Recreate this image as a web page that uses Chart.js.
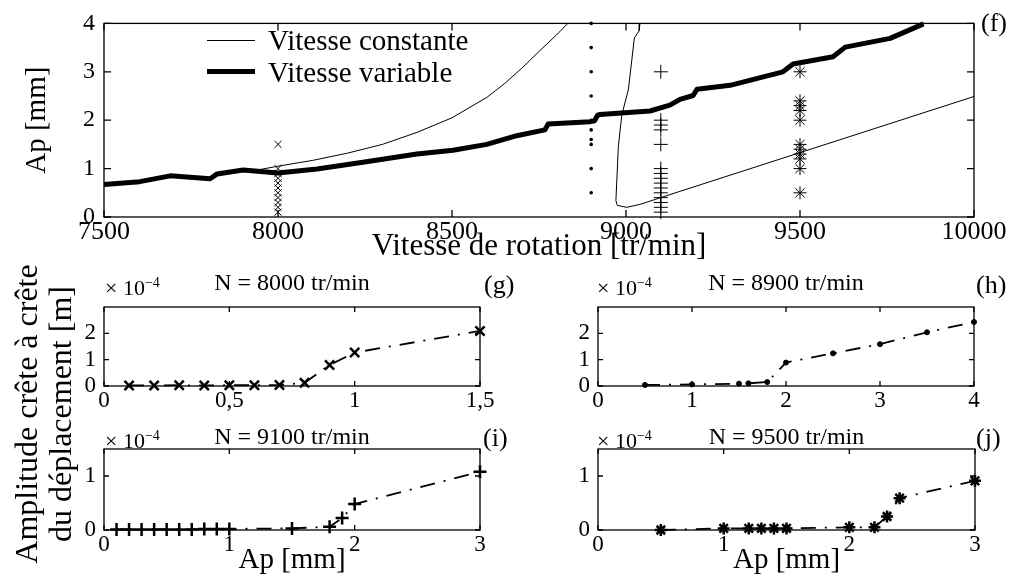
<!DOCTYPE html>
<html>
<head>
<meta charset="utf-8">
<script src="https://cdn.jsdelivr.net/npm/chart.js@4.4.1/dist/chart.umd.min.js"></script>
<style>
  body { margin: 0; width: 1014px; height: 576px; position: relative; overflow: hidden; background: #fff; }
  canvas { position: absolute; }
  .lbl { position: absolute; font-family: "Liberation Serif", serif; color: #000; white-space: nowrap; }
  .sample { position: absolute; background: #000; }
  sup { font-size: 14px; vertical-align: 8px; }
</style>
</head>
<body>
<canvas id="chartF" width="1014" height="275" style="left:0;top:0"></canvas>
<canvas id="chartG" width="507" height="160" style="left:0;top:255px"></canvas>
<canvas id="chartH" width="507" height="160" style="left:507px;top:255px"></canvas>
<canvas id="chartI" width="507" height="166" style="left:0;top:410px"></canvas>
<canvas id="chartJ" width="507" height="166" style="left:507px;top:410px"></canvas>

<!-- legende de (f) -->
<div class="sample" style="left:207px;top:40px;width:48px;height:1px"></div>
<div class="lbl" style="left:268px;top:22px;font-size:29px;line-height:36px">Vitesse constante</div>
<div class="sample" style="left:207px;top:69px;width:48px;height:5px"></div>
<div class="lbl" style="left:268px;top:54px;font-size:29px;line-height:36px">Vitesse variable</div>

<div class="lbl" style="left:981px;top:8px;font-size:26px;line-height:30px">(f)</div>
<div class="lbl" style="left:484px;top:270px;font-size:26px;line-height:30px">(g)</div>
<div class="lbl" style="left:976px;top:270px;font-size:26px;line-height:30px">(h)</div>
<div class="lbl" style="left:483px;top:423px;font-size:26px;line-height:30px">(i)</div>
<div class="lbl" style="left:976px;top:423px;font-size:26px;line-height:30px">(j)</div>

<div class="lbl" style="left:105px;top:270px;font-size:22px;line-height:26px">× 10<sup>−4</sup></div>
<div class="lbl" style="left:597px;top:270px;font-size:22px;line-height:26px">× 10<sup>−4</sup></div>
<div class="lbl" style="left:105px;top:423px;font-size:22px;line-height:26px">× 10<sup>−4</sup></div>
<div class="lbl" style="left:597px;top:423px;font-size:22px;line-height:26px">× 10<sup>−4</sup></div>

<div class="lbl" style="left:43px;top:414px;width:360px;font-size:32px;line-height:34px;text-align:center;transform:translate(-50%,-50%) rotate(-90deg)">Amplitude crête à crête<br>du déplacement [m]</div>

<script>
// (f) limite de stabilite
const rpmTicks = [7500, 8000, 8500, 9000, 9500, 10000];
const apTicks = [0, 1, 2, 3, 4];

const varRpm = [7500, 7603, 7690, 7805, 7825, 7900, 8000, 8112, 8244, 8399, 8503, 8600, 8686, 8767, 8776,
  8897, 8910, 8918, 8925, 9069, 9126, 9155, 9193, 9204, 9299, 9451, 9480, 9595, 9630, 9759, 9855];
const varAp = [0.67, 0.73, 0.85, 0.79, 0.89, 0.97, 0.91, 0.99, 1.13, 1.30, 1.38, 1.50, 1.68, 1.80, 1.92,
  1.97, 1.99, 2.10, 2.12, 2.19, 2.31, 2.43, 2.51, 2.64, 2.72, 3.00, 3.16, 3.31, 3.51, 3.69, 3.99];

const constRpm1 = [7940, 8000, 8100, 8200, 8300, 8400, 8500, 8600, 8650, 8700, 8750, 8800, 8833];
const constAp1 = [0.97, 1.05, 1.17, 1.32, 1.50, 1.75, 2.05, 2.47, 2.75, 3.07, 3.42, 3.76, 4.00];
const constRpm2 = [9040, 9038, 9024, 9007, 8988, 8978, 8971, 8975, 9002, 9040, 9155, 9500, 10000];
const constAp2 = [4.00, 3.85, 3.70, 2.64, 2.11, 1.46, 0.34, 0.24, 0.20, 0.26, 0.53, 1.33, 2.49];

// (g) N = 8000 tr/min
const apG = [0.1, 0.2, 0.3, 0.4, 0.5, 0.6, 0.7, 0.8, 0.9, 1.0, 1.5];
const ampG = [0.02, 0.02, 0.03, 0.02, 0.03, 0.03, 0.04, 0.12, 0.80, 1.27, 2.09];
// (h) N = 8900 tr/min
const apH = [0.5, 1.0, 1.5, 1.6, 1.8, 2.0, 2.5, 3.0, 3.5, 4.0];
const ampH = [0.04, 0.06, 0.09, 0.10, 0.15, 0.89, 1.24, 1.59, 2.04, 2.43];
// (i) N = 9100 tr/min
const apI = [0.1, 0.2, 0.3, 0.4, 0.5, 0.6, 0.7, 0.8, 0.9, 1.0, 1.5, 1.8, 1.9, 2.0, 3.0];
const ampI = [0.01, 0.01, 0.01, 0.01, 0.01, 0.01, 0.01, 0.02, 0.02, 0.02, 0.03, 0.06, 0.22, 0.48, 1.08];
// (j) N = 9500 tr/min
const apJ = [0.5, 1.0, 1.2, 1.3, 1.4, 1.5, 2.0, 2.2, 2.3, 2.4, 3.0];
const ampJ = [0.00, 0.03, 0.03, 0.03, 0.03, 0.03, 0.05, 0.05, 0.25, 0.59, 0.91];

const toXY = (xs, ys) => xs.map((x, i) => ({ x: x, y: ys[i] }));
const atRpm = (rpm, ys) => ys.map(y => ({ x: rpm, y: y }));
const comma = v => String(v).replace('.', ',');

Chart.defaults.font.family = '"Liberation Serif", serif';
Chart.defaults.color = '#000';
Chart.defaults.animation = false;

// cadre et graduations vers l'interieur, facon matlab
const frame = {
  id: 'frame',
  defaults: { width: 1.3, len: 5, xTicks: [], yTicks: [] },
  afterDraw(chart, args, o) {
    const { ctx, chartArea: a, scales } = chart;
    ctx.save();
    ctx.strokeStyle = '#000';
    ctx.lineWidth = o.width;
    ctx.setLineDash([]);
    ctx.strokeRect(a.left, a.top, a.right - a.left, a.bottom - a.top);
    ctx.beginPath();
    o.xTicks.forEach(v => {
      const p = scales.x.getPixelForValue(v);
      ctx.moveTo(p, a.bottom); ctx.lineTo(p, a.bottom - o.len);
      ctx.moveTo(p, a.top); ctx.lineTo(p, a.top + o.len);
    });
    o.yTicks.forEach(v => {
      const p = scales.y.getPixelForValue(v);
      ctx.moveTo(a.left, p); ctx.lineTo(a.left + o.len, p);
      ctx.moveTo(a.right, p); ctx.lineTo(a.right - o.len, p);
    });
    ctx.stroke();
    ctx.restore();
  }
};
Chart.register(frame);

const constData = toXY(constRpm1, constAp1).concat([{ x: 8900, y: null }], toXY(constRpm2, constAp2));

new Chart(document.getElementById('chartF'), {
  type: 'scatter',
  data: {
    datasets: [
      { label: 'Vitesse constante', data: constData, showLine: true, spanGaps: false, borderColor: '#000', borderWidth: 1, pointRadius: 0, clip: false },
      { label: 'Vitesse variable', data: toXY(varRpm, varAp), showLine: true, borderColor: '#000', borderWidth: 5, borderJoinStyle: 'round', pointRadius: 0, clip: false },
      { data: atRpm(8000, apG), pointStyle: 'crossRot', pointRadius: 5, pointBorderWidth: 1, borderColor: '#000', clip: false },
      { data: atRpm(8900, apH), pointStyle: 'circle', pointRadius: 1.8, pointBorderWidth: 0, backgroundColor: '#000', borderColor: '#000', clip: false },
      { data: atRpm(9100, apI), pointStyle: 'cross', pointRadius: 7, pointBorderWidth: 1, borderColor: '#000', clip: false },
      { data: atRpm(9500, apJ), pointStyle: 'star', pointRadius: 6.5, pointBorderWidth: 1, borderColor: '#000', clip: false }
    ]
  },
  options: {
    responsive: false,
    layout: { padding: { top: 15, right: 40, left: 0, bottom: 0 } },
    plugins: {
      legend: { display: false },
      tooltip: { enabled: false },
      frame: { xTicks: rpmTicks, yTicks: apTicks, len: 7 }
    },
    scales: {
      x: {
        type: 'linear', min: 7500, max: 10000,
        afterBuildTicks: s => { s.ticks = rpmTicks.map(v => ({ value: v })); },
        afterFit: s => { s.height = 58; },
        grid: { display: false, drawTicks: false }, border: { display: false },
        ticks: { font: { size: 26, lineHeight: 1 }, padding: 2, maxRotation: 0, autoSkip: false, callback: v => String(v) },
        title: { display: true, text: 'Vitesse de rotation [tr/min]', font: { size: 31, lineHeight: 1.2 }, padding: { top: 0, bottom: 10 } }
      },
      y: {
        type: 'linear', min: 0, max: 4,
        afterBuildTicks: s => { s.ticks = apTicks.map(v => ({ value: v })); },
        afterFit: s => { s.width = 104; },
        grid: { display: false, drawTicks: false }, border: { display: false },
        ticks: { font: { size: 24 }, padding: 9, autoSkip: false, callback: v => String(v) },
        title: { display: true, text: 'Ap [mm]', font: { size: 29, lineHeight: 1.2 }, padding: { top: 20, bottom: 0 } }
      }
    }
  }
});

function smallChart(id, opt) {
  const ds = {
    data: toXY(opt.ap, opt.amp), showLine: true, borderColor: '#000', borderWidth: 1.8,
    borderDash: [15, 9, 2, 9], pointStyle: opt.marker, pointRadius: opt.radius,
    pointBorderWidth: opt.markerWidth, backgroundColor: '#000', clip: false
  };
  const xScale = {
    type: 'linear', min: 0, max: opt.xTicks[opt.xTicks.length - 1],
    afterBuildTicks: s => { s.ticks = opt.xTicks.map(v => ({ value: v })); },
    afterFit: s => { s.height = opt.xHeight; },
    grid: { display: false, drawTicks: false }, border: { display: false },
    ticks: { font: { size: 23, lineHeight: 1.2 }, padding: 1, maxRotation: 0, autoSkip: false, callback: comma }
  };
  if (opt.xTitle) {
    xScale.title = { display: true, text: opt.xTitle, font: { size: 29, lineHeight: 1.1 }, padding: { top: 0, bottom: 0 } };
  }
  new Chart(document.getElementById(id), {
    type: 'scatter',
    data: { datasets: [ds] },
    options: {
      responsive: false,
      layout: { padding: { top: 0, right: opt.padRight, left: 0, bottom: 0 } },
      plugins: {
        legend: { display: false },
        tooltip: { enabled: false },
        title: {
          display: true, fullSize: false, text: opt.title,
          font: { size: 24, weight: 'normal', lineHeight: opt.titleLH }, padding: opt.titlePad
        },
        frame: { xTicks: opt.xTicks, yTicks: opt.yTicks, len: 5 }
      },
      scales: {
        x: xScale,
        y: {
          type: 'linear', min: 0, max: opt.yMax,
          afterBuildTicks: s => { s.ticks = opt.yTicks.map(v => ({ value: v })); },
          afterFit: s => { s.width = opt.yWidth; },
          grid: { display: false, drawTicks: false }, border: { display: false },
          ticks: { font: { size: 23 }, padding: 8, autoSkip: false, callback: v => String(v) }
        }
      }
    }
  });
}

smallChart('chartG', {
  ap: apG, amp: ampG, marker: 'crossRot', radius: 6.5, markerWidth: 2.5,
  title: 'N = 8000 tr/min', titleLH: 1.2, titlePad: { top: 14.6, bottom: 8.6 },
  xTicks: [0, 0.5, 1, 1.5], yTicks: [0, 1, 2], yMax: 3,
  yWidth: 104, xHeight: 29, padRight: 27
});
smallChart('chartH', {
  ap: apH, amp: ampH, marker: 'circle', radius: 2.5, markerWidth: 1,
  title: 'N = 8900 tr/min', titleLH: 1.2, titlePad: { top: 14.6, bottom: 8.6 },
  xTicks: [0, 1, 2, 3, 4], yTicks: [0, 1, 2], yMax: 3,
  yWidth: 91, xHeight: 29, padRight: 40
});
smallChart('chartI', {
  ap: apI, amp: ampI, marker: 'cross', radius: 6.5, markerWidth: 2.5,
  title: 'N = 9100 tr/min', titleLH: 0.9, titlePad: { top: 17.2, bottom: 0.2 },
  xTicks: [0, 1, 2, 3], yTicks: [0, 1], yMax: 1.5, xTitle: 'Ap [mm]',
  yWidth: 104, xHeight: 46, padRight: 27
});
smallChart('chartJ', {
  ap: apJ, amp: ampJ, marker: 'star', radius: 6, markerWidth: 2.5,
  title: 'N = 9500 tr/min', titleLH: 0.9, titlePad: { top: 17.2, bottom: 0.2 },
  xTicks: [0, 1, 2, 3], yTicks: [0, 1], yMax: 1.5, xTitle: 'Ap [mm]',
  yWidth: 91, xHeight: 46, padRight: 39
});
</script>
</body>
</html>
